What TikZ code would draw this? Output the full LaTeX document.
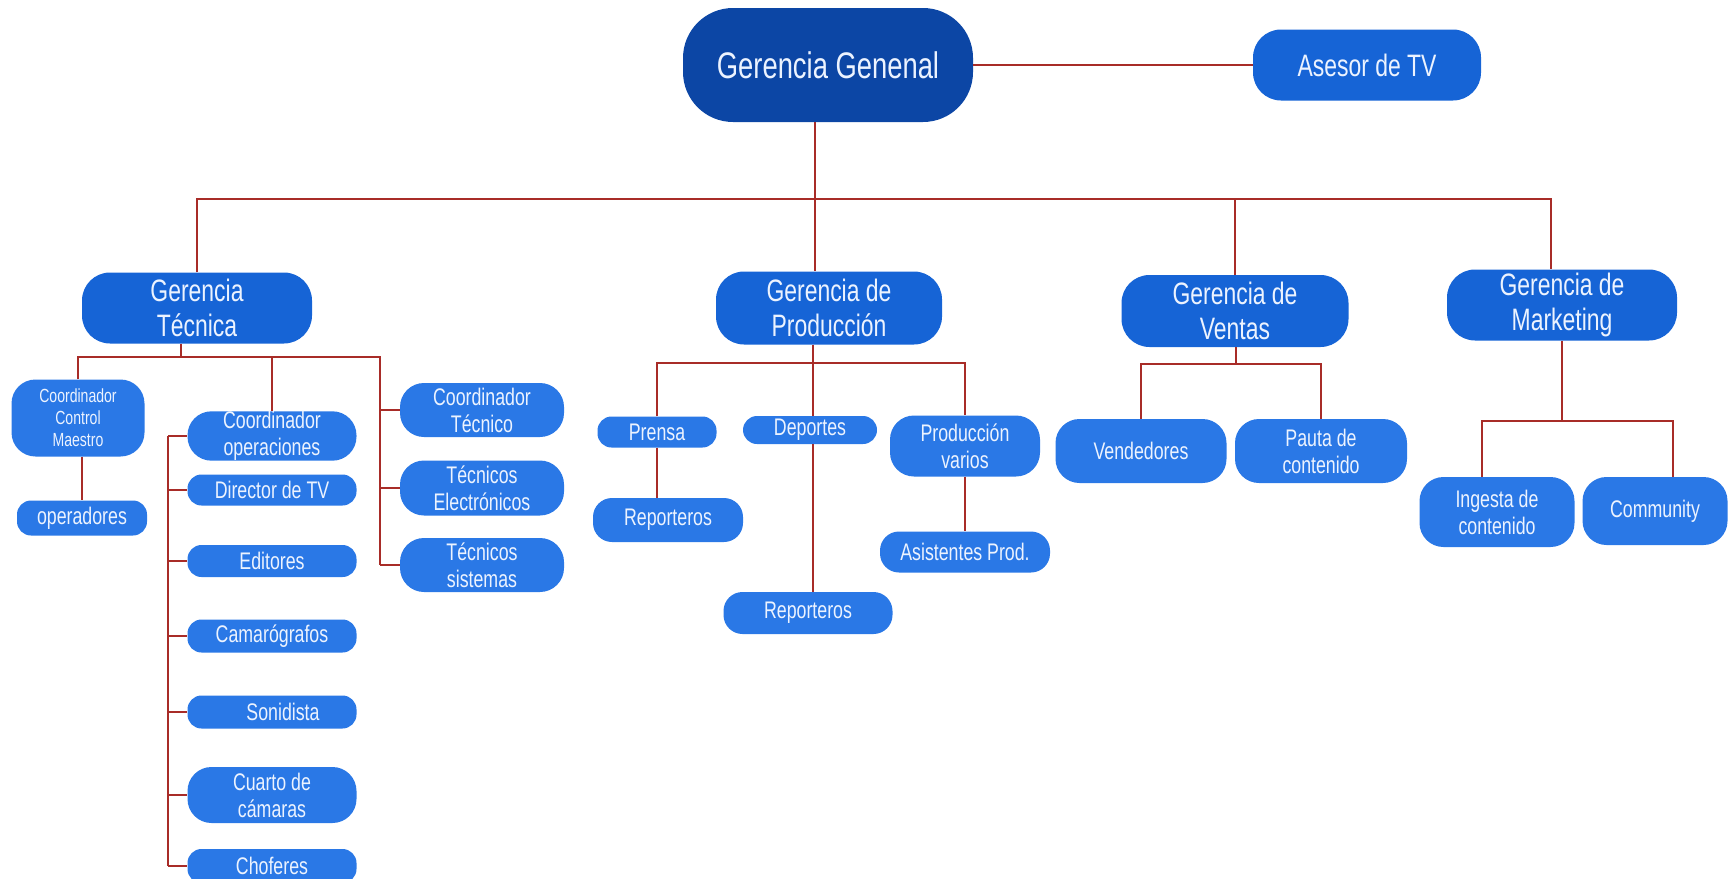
\documentclass[tikz,border=0pt]{standalone}
\usepackage{fontspec}
\setmainfont[FakeStretch=0.74]{Liberation Sans}
\definecolor{topblue}{RGB}{12,70,165}
\definecolor{headblue}{RGB}{22,100,214}
\definecolor{leafblue}{RGB}{42,120,230}
\definecolor{boxtext}{RGB}{236,243,255}
\definecolor{linkred}{RGB}{168,44,40}
\begin{document}
\begin{tikzpicture}[x=1pt, y=-1pt,
    box/.style = {draw=none, fill=leafblue, text=boxtext, align=center, inner sep=0pt,
                  rounded corners=14pt, font=\fontsize{24}{27}\selectfont},
    tall/.style = {rounded corners=24pt},
    mid/.style = {rounded corners=19pt},
    boss/.style = {box, fill=topblue, rounded corners=50pt, font=\fontsize{37}{42}\selectfont},
    head/.style = {box, fill=headblue, rounded corners=28pt, font=\fontsize{31}{35}\selectfont},
    sz/.style 2 args = {minimum width=#1pt, minimum height=#2pt},
    link/.style = {draw=linkred, line width=2.5pt}]
    \useasboundingbox (0,0) rectangle (1728,878);

    % top level
    \node[boss, sz={290}{114}] (gg)     at (828,65)  {Gerencia Genenal};
    \node[head, sz={228}{71}]  (asesor) at (1367,65) {Asesor de TV};

    \node[head, sz={230}{71}] (gt) at (197,308)  {Gerencia\\Técnica};
    \node[head, sz={226}{73}] (gp) at (829,308)  {Gerencia de\\Producción};
    \node[head, sz={227}{72}] (gv) at (1235,311) {Gerencia de\\Ventas};
    \node[head, sz={230}{71}] (gm) at (1562,305) {Gerencia de\\Marketing};

    % gerencia tecnica
    \node[box, tall, sz={133}{77}, font=\fontsize{19}{22}\selectfont] (ccm) at (78,418) {Coordinador\\Control\\Maestro};
    \node[box, sz={130}{35}] (oper) at (82,518) {operadores};
    \begin{scope}[every node/.append style={font=\fontsize{22.5}{25}\selectfont}]
    \node[box, tall, sz={169}{48}] (cop) at (272,436) {Coordinador\\operaciones};
    \node[box, sz={169}{31}] (dir) at (272,490) {Director de TV};
    \node[box, sz={169}{32}] (edi) at (272,561) {Editores};
    \node[box, sz={169}{33}] (cam) at (272,636) {Camarógrafos};
    \node[box, sz={169}{33}] (son) at (272,712) {\hspace{22pt}Sonidista};
    \node[box, tall, sz={169}{56}] (cua) at (272,795) {Cuarto de\\cámaras};
    \node[box, sz={169}{34}] (cho) at (272,866) {Choferes};
    \node[box, tall, sz={164}{54}] (ct) at (482,410) {Coordinador\\Técnico};
    \node[box, tall, sz={164}{55}] (te) at (482,488) {Técnicos\\Electrónicos};
    \node[box, tall, sz={164}{54}] (ts) at (482,565) {Técnicos\\sistemas};
    \end{scope}

    % gerencia de produccion
    \begin{scope}[every node/.append style={font=\fontsize{25}{29}\selectfont}]
    \node[box, sz={119}{31}] (prensa) at (657,432) {Prensa};
    \node[box, mid, sz={150}{44}] (rep1) at (668,520) {Reporteros};
    \node[box, sz={134}{28}] (dep) at (810,430) {Deportes};
    \node[box, mid, sz={169}{42}] (rep2) at (808,613) {Reporteros};
    \node[box, tall, sz={150}{61}] (pv) at (965,446) {Producción\\varios};
    \node[box, mid, sz={170}{41}, font=\fontsize{24}{27}\selectfont] (asis) at (965,552) {Asistentes Prod.};
    \end{scope}

    % ventas y marketing
    \begin{scope}[every node/.append style={font=\fontsize{26}{31}\selectfont}]
    \node[box, tall, sz={171}{64}] (vend)  at (1141,451) {Vendedores};
    \node[box, tall, sz={172}{64}] (pauta) at (1321,451) {Pauta de\\contenido};
    \node[box, tall, sz={155}{70}] (ing)   at (1497,512) {Ingesta de\\contenido};
    \node[box, tall, sz={145}{68}] (com)   at (1655,511) {Community};
    \end{scope}

    % connectors
    \coordinate (trunk) at (815,199);
    \coordinate (tbus)  at (181,357);
    \coordinate (spR)   at (380,357);
    \coordinate (spL)   at (168,436);
    \coordinate (pbus)  at (813,363);
    \coordinate (vbus)  at (1236,364);
    \coordinate (mbus)  at (1562,421);

    \draw[link] (gg.east) -- (asesor.west);
    \draw[link] (gg.south -| trunk) -- (trunk |- gp.north);
    \draw[link] (gt.north) |- ([xshift=-11pt]gm.north |- trunk) -- ([xshift=-11pt]gm.north);
    \draw[link] (gv.north |- trunk) -- (gv.north);

    \draw[link] (gt.south -| tbus) -- (tbus);
    \draw[link] (ccm.north) |- (spR) -- (spR |- ts.west);
    \draw[link] (cop.north |- spR) -- (cop.north);
    \draw[link] (oper.north |- ccm.south) -- (oper.north);
    \foreach \n in {ct,te,ts}
        \draw[link] (spR |- \n.west) -- (\n.west);
    \draw[link] (spL) -- (spL |- cho.west);
    \foreach \n in {cop,dir,edi,cam,son,cua,cho}
        \draw[link] (spL |- \n.west) -- (\n.west);

    \draw[link] (gp.south -| pbus) -- (pbus);
    \draw[link] (prensa.north) |- (pbus) -| (pv.north);
    \draw[link] (pbus) -- (pbus |- dep.north);
    \draw[link] (prensa.south) -- (prensa.south |- rep1.north);
    \draw[link] (pbus |- dep.south) -- (pbus |- rep2.north);
    \draw[link] (pv.south) -- (asis.north);

    \draw[link] (gv.south -| vbus) -- (vbus);
    \draw[link] (vend.north) |- (vbus) -| (pauta.north);

    \draw[link] (gm.south) -- (mbus);
    \draw[link] ([xshift=-15pt]ing.north) |- (mbus) -| ([xshift=18pt]com.north);
\end{tikzpicture}
\end{document}
